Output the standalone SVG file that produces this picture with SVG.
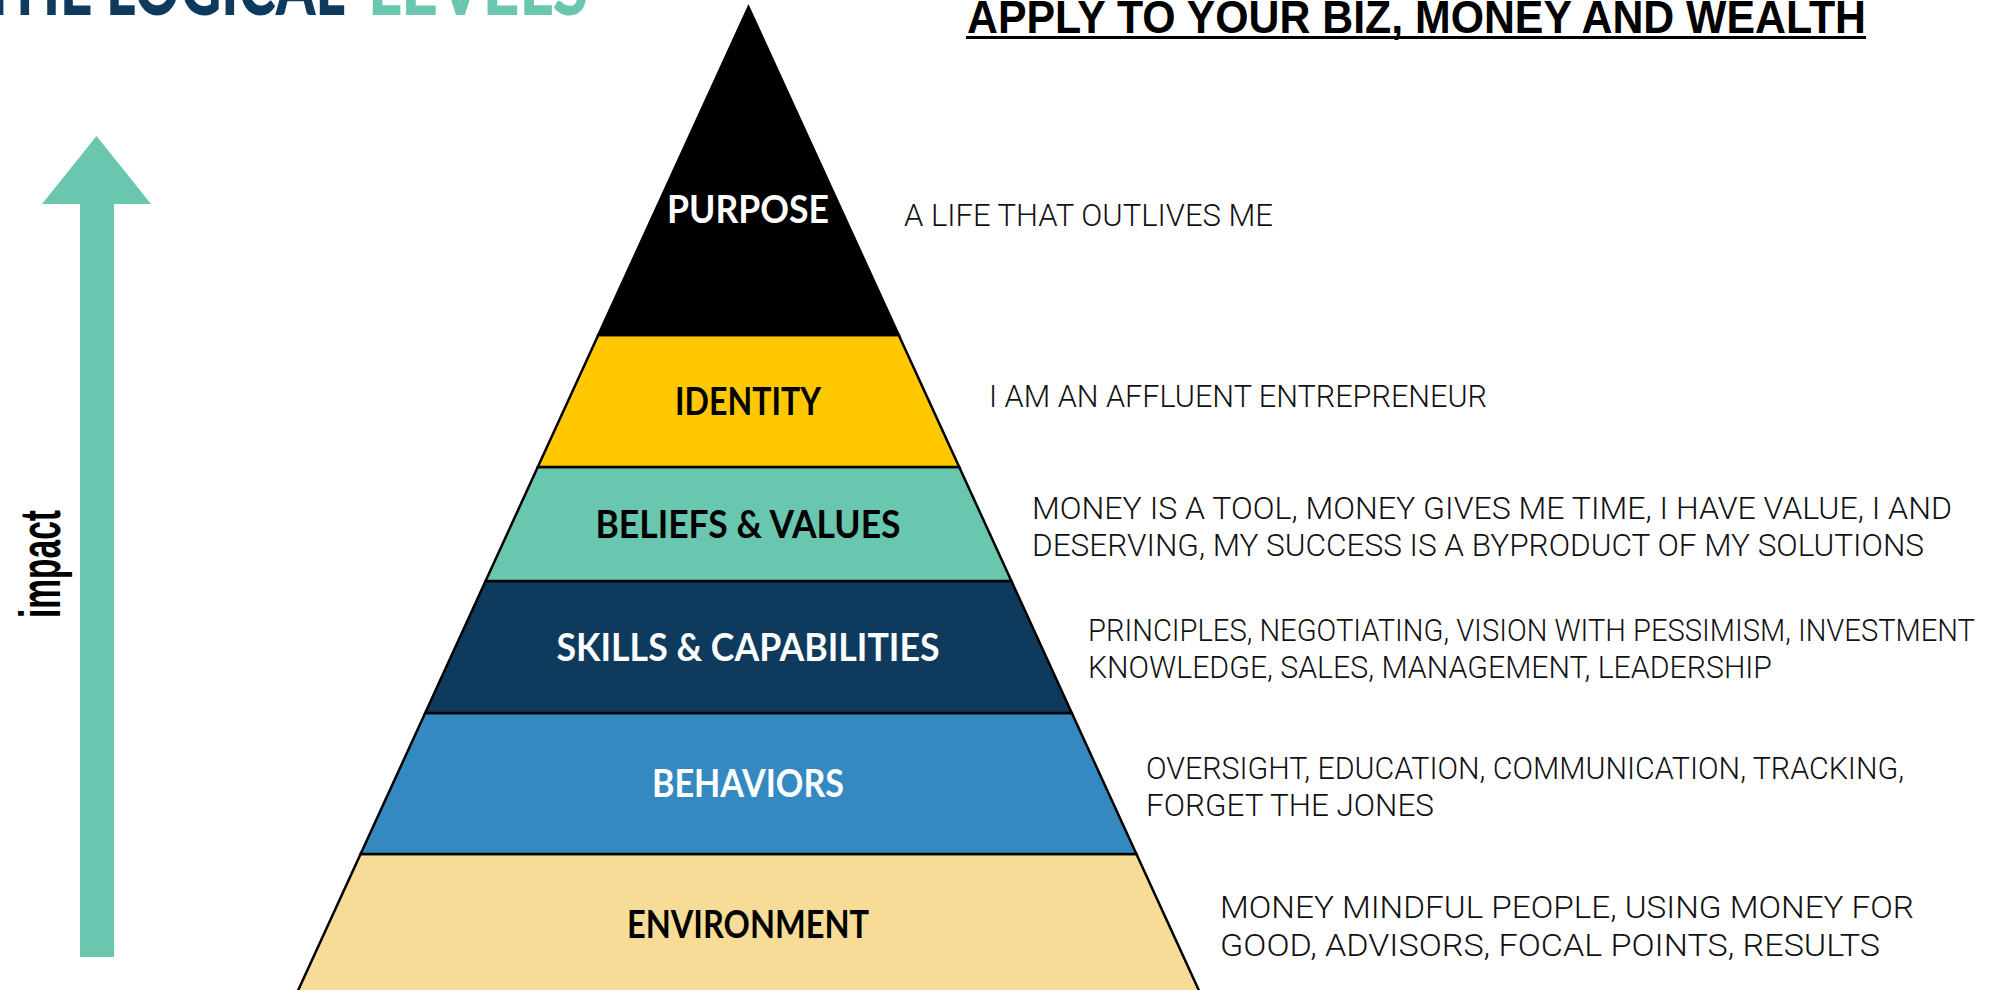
<svg xmlns="http://www.w3.org/2000/svg" width="1990" height="990" viewBox="0 0 1990 990">
<style>
.band{stroke:#000;stroke-width:2.5;stroke-linejoin:miter}
.lbl{font-family:"Lato","Liberation Sans",sans-serif;font-weight:700;font-size:38px;text-anchor:middle}
.desc{font-family:"Roboto","Liberation Sans",sans-serif;font-weight:300;font-size:32px;fill:#111}
.title{font-family:"Lato","Liberation Sans",sans-serif;font-weight:900;font-size:80px}
</style>
<rect width="1990" height="990" fill="#fff"/>
<g id="title-left">
<text class="title" x="-18" y="15" fill="#0e3b5d" textLength="363" lengthAdjust="spacingAndGlyphs">THE LOGICAL</text>
<text class="title" x="368" y="15" fill="#6bc6af" textLength="220" lengthAdjust="spacingAndGlyphs">LEVELS</text>
</g>
<g id="title-right">
<text x="967" y="33" font-family="Liberation Sans Narrow, Liberation Sans, sans-serif" font-weight="700" font-size="46" fill="#000" textLength="899" lengthAdjust="spacingAndGlyphs">APPLY TO YOUR BIZ, MONEY AND WEALTH</text>
<rect x="966" y="36" width="900" height="3" fill="#000"/>
</g>
<g id="impact-arrow">
<polygon points="96.5,136 151,204 114,204 114,957 80,957 80,204 42,204" fill="#6bc6af"/>
<text transform="translate(60,564) rotate(-90)" x="0" y="0" text-anchor="middle" font-family="Liberation Sans Narrow, Liberation Sans, sans-serif" font-weight="700" font-size="58" fill="#000" textLength="108" lengthAdjust="spacingAndGlyphs">impact</text>
</g>
<g id="connectors"></g>
<g id="environment">
<polygon class="band" points="360.6,854 1136.4,854 1203.3,1000 293.7,1000" fill="#f6dc96"/>
<text class="lbl" x="748" y="938" fill="#000" textLength="242" lengthAdjust="spacingAndGlyphs">ENVIRONMENT</text>
<text class="desc" x="1220" y="918" textLength="694" lengthAdjust="spacingAndGlyphs">MONEY MINDFUL PEOPLE, USING MONEY FOR</text>
<text class="desc" x="1220" y="956" textLength="660" lengthAdjust="spacingAndGlyphs">GOOD, ADVISORS, FOCAL POINTS, RESULTS</text>
</g>
<g id="behaviors">
<polygon class="band" points="425.2,713 1071.8,713 1136.4,854 360.6,854" fill="#348ac0"/>
<text class="lbl" x="748" y="797" fill="#fff" textLength="192" lengthAdjust="spacingAndGlyphs">BEHAVIORS</text>
<text class="desc" x="1146" y="779" textLength="758" lengthAdjust="spacingAndGlyphs">OVERSIGHT, EDUCATION, COMMUNICATION, TRACKING,</text>
<text class="desc" x="1146" y="816" textLength="288" lengthAdjust="spacingAndGlyphs">FORGET THE JONES</text>
</g>
<g id="skills-capabilities">
<polygon class="band" points="485.6,581 1011.4,581 1071.8,713 425.2,713" fill="#0e3b5d"/>
<text class="lbl" x="748" y="661" fill="#fff" textLength="383" lengthAdjust="spacingAndGlyphs">SKILLS &amp; CAPABILITIES</text>
<text class="desc" x="1088" y="641" textLength="887" lengthAdjust="spacingAndGlyphs">PRINCIPLES, NEGOTIATING, VISION WITH PESSIMISM, INVESTMENT</text>
<text class="desc" x="1088" y="678" textLength="684" lengthAdjust="spacingAndGlyphs">KNOWLEDGE, SALES, MANAGEMENT, LEADERSHIP</text>
</g>
<g id="beliefs-values">
<polygon class="band" points="537.8,467 959.2,467 1011.4,581 485.6,581" fill="#69c6af"/>
<text class="lbl" x="748" y="538" fill="#000" textLength="305" lengthAdjust="spacingAndGlyphs">BELIEFS &amp; VALUES</text>
<text class="desc" x="1032" y="519" textLength="920" lengthAdjust="spacingAndGlyphs">MONEY IS A TOOL, MONEY GIVES ME TIME, I HAVE VALUE, I AND</text>
<text class="desc" x="1032" y="556" textLength="892" lengthAdjust="spacingAndGlyphs">DESERVING, MY SUCCESS IS A BYPRODUCT OF MY SOLUTIONS</text>
</g>
<g id="identity">
<polygon class="band" points="598.3,335 898.7,335 959.2,467 537.8,467" fill="#ffc800"/>
<text class="lbl" x="748" y="415" fill="#000" textLength="146" lengthAdjust="spacingAndGlyphs">IDENTITY</text>
<text class="desc" x="989" y="407" textLength="498" lengthAdjust="spacingAndGlyphs">I AM AN AFFLUENT ENTREPRENEUR</text>
</g>
<g id="purpose">
<polygon class="band" points="748.5,7 898.7,335 598.3,335" fill="#000"/>
<text class="lbl" x="748" y="223" fill="#fff" textLength="162" lengthAdjust="spacingAndGlyphs">PURPOSE</text>
<text class="desc" x="904" y="226" textLength="369" lengthAdjust="spacingAndGlyphs">A LIFE THAT OUTLIVES ME</text>
</g>
</svg>
